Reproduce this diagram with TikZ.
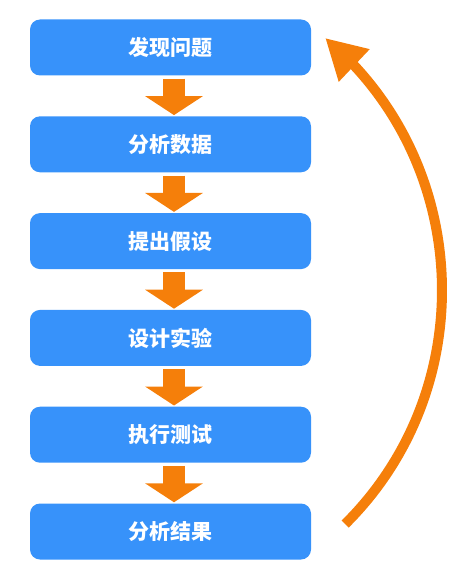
\documentclass[tikz,border=0pt]{standalone}
\usepackage{fontspec}
\newfontfamily\cjk{Noto Sans CJK SC}
\usetikzlibrary{arrows.meta,positioning,calc,bending}
\definecolor{stepblue}{RGB}{55,146,250}
\definecolor{arroworange}{RGB}{245,127,10}

\begin{document}
\begin{tikzpicture}[
  x=1pt, y=-1pt,
  font=\cjk\bfseries\fontsize{21}{25}\selectfont,
  box/.style={fill=stepblue, rounded corners=10pt, text=white, minimum width=281pt, minimum height=56pt, inner sep=0pt},
  flow/.style={-{Triangle[width=57pt,length=19pt]}, line width=22pt, draw=arroworange, shorten <=3pt, shorten >=1pt},
  returnarrow/.style={-{Triangle[width=42pt,length=40pt]}, line width=10pt, draw=arroworange},
  node distance=40.4pt
]
\useasboundingbox (0,0) rectangle (466,575);

\node[box] (b1) at (170.5,47.5) {发现问题};
\node[box, below=of b1] (b2) {分析数据};
\node[box, below=of b2] (b3) {提出假设};
\node[box, below=of b3] (b4) {设计实验};
\node[box, below=of b4] (b5) {执行测试};
\node[box, below=of b5] (b6) {分析结果};

\foreach \a/\b in {b1/b2,b2/b3,b3/b4,b4/b5,b5/b6} {
  \draw[flow] ([xshift=3.5pt]\a.south) -- ([xshift=3.5pt]\b.north);
}

% back to the start
\coordinate (loopstart) at ($(b6.east)+(34,-7.5)$);
\coordinate (looptip) at ($(b1.east)+(14,-9.5)$);
\draw[returnarrow] (loopstart) .. controls +(136.6,-135.5) and +(147.4,123.7) .. (looptip);

\end{tikzpicture}
\end{document}
